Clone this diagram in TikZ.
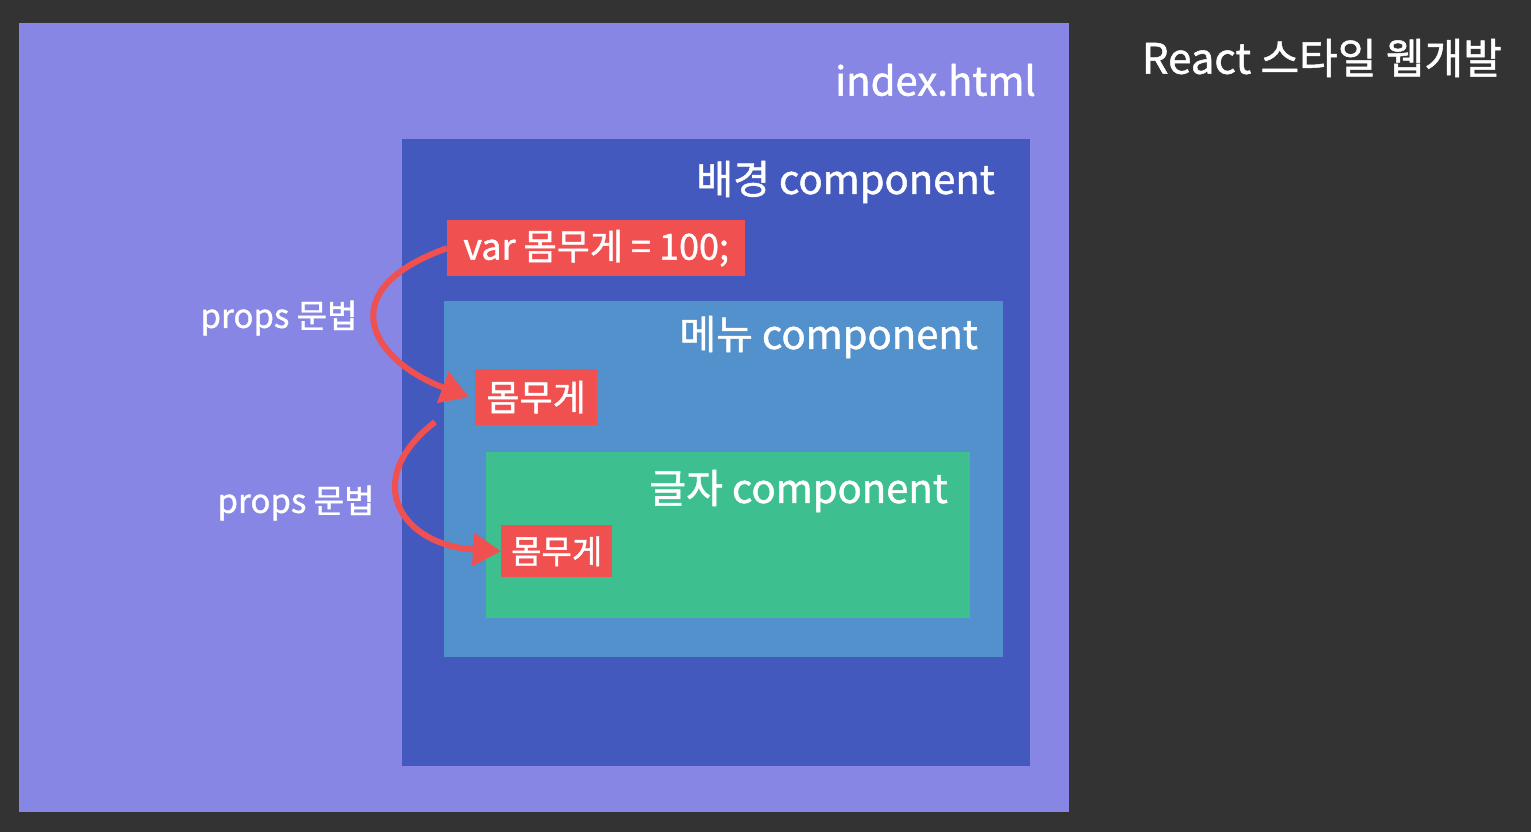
\documentclass[tikz,border=0pt]{standalone}
\usepackage{fontspec}
\setmainfont{Noto Sans CJK KR}[FakeBold=1.2]
\usetikzlibrary{arrows.meta}
\definecolor{bgdark}{HTML}{333333}
\definecolor{cindex}{HTML}{8786E4}
\definecolor{cbg}{HTML}{4459BE}
\definecolor{cmenu}{HTML}{5291CB}
\definecolor{ctext}{HTML}{3DBF8F}
\definecolor{cred}{HTML}{F0504F}
\tikzset{
  box/.style={inner sep=0pt, outer sep=0pt},
  title/.style={text=white, font=\fontsize{40}{44}\selectfont, inner sep=0pt, anchor=east},
  tag/.style={fill=cred, text=white, font=\fontsize{36}{40}\selectfont, inner sep=0pt, minimum height=56pt, anchor=north west},
  lbl/.style={text=white, font=\fontsize{33}{38}\selectfont, inner sep=0pt},
  flow/.style={cred, line width=6pt, -{Triangle[length=28pt,width=32pt]}}
}
\begin{document}
\begin{tikzpicture}[x=1pt,y=-1pt]
\fill[bgdark] (0,0) rectangle (1531,832);
\useasboundingbox (0,0) rectangle (1531,832);
\fill[cindex] (19,23) rectangle (1069,812);
\fill[cbg] (402,139) rectangle (1030,766);
\fill[cmenu] (444,301) rectangle (1003,657);
\fill[ctext] (486,452) rectangle (970,618);

\node[title] (tindex) at (1036,80) {index.html};
\node[title] (tbg) at (995,182) {배경 component};
\node[title] (tmenu) at (978,337) {메뉴 component};
\node[title] (ttext) at (948,491) {글자 component};
\node[text=white, font=\fontsize{42}{46}\selectfont, inner sep=0pt, anchor=east] (thead) at (1502,58) {React 스타일 웹개발};

\node[tag, minimum width=298pt] (var) at (447,220) {var 몸무게 = 100;};
\node[tag, minimum width=122pt] (w1) at (475,369) {몸무게};
\node[tag, minimum width=111pt, minimum height=52pt, font=\fontsize{33}{38}\selectfont] (w2) at (501,525) {몸무게};

\node[lbl] (p1) at (279,318) {props 문법};
\node[lbl] (p2) at (296,503) {props 문법};

\draw[flow] (var.west) .. controls (330,290) and (370,360) .. ([xshift=-6pt]w1.west);
\draw[flow] (435,422) coordinate (s2) .. controls (360,480) and (400,545) .. (w2.west);
\end{tikzpicture}
\end{document}
